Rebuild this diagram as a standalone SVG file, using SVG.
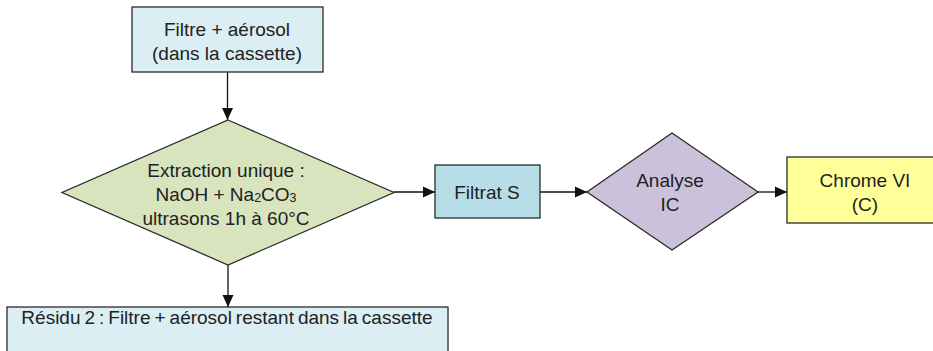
<svg xmlns="http://www.w3.org/2000/svg" width="933" height="351" viewBox="0 0 933 351">
<style>
.box{stroke:#2b2b2b;stroke-width:1.3}
.t{font-family:"Liberation Sans",Arial,sans-serif;font-size:19px;fill:#222;text-anchor:middle}
.c{stroke:#111;stroke-width:1.3;fill:none;marker-end:url(#ah)}
.sub{font-size:12.5px}
</style>
<defs>
<marker id="ah" viewBox="0 0 12 12" refX="12" refY="6" markerWidth="12" markerHeight="12" markerUnits="userSpaceOnUse" orient="auto">
<path d="M0,0.5 L12,6 L0,11.5 Z" fill="#111"/>
</marker>
</defs>
<rect width="933" height="351" fill="#fff"/>
<g id="connectors">
<line class="c" x1="227.5" y1="72" x2="227.5" y2="120"/>
<line class="c" x1="228" y1="265" x2="228" y2="307"/>
<line class="c" x1="394" y1="192" x2="435" y2="192"/>
<line class="c" x1="540" y1="192" x2="587" y2="192"/>
<line class="c" x1="758" y1="192" x2="787" y2="192"/>
</g>
<g id="filtre-aerosol">
<rect class="box" x="132" y="7" width="191" height="65" fill="#DAEEF3"/>
<text class="t" x="227" y="35.5">Filtre + aérosol</text>
<text class="t" x="227" y="59.5">(dans la cassette)</text>
</g>
<g id="extraction">
<polygon class="box" points="228,120 394,192.5 228,265 62,192.5" fill="#D7E4BD"/>
<text class="t" x="226" y="176.5">Extraction unique :</text>
<text class="t" x="226" y="200.5">NaOH + Na<tspan class="sub" dy="1">2</tspan><tspan dy="-1">CO</tspan><tspan class="sub" dy="1">3</tspan></text>
<text class="t" x="226" y="224.5">ultrasons 1h à 60°C</text>
</g>
<g id="residu">
<rect class="box" x="7" y="307" width="441" height="60" fill="#DAEEF3"/>
<text class="t" x="227" y="324" style="word-spacing:-1.3px">Résidu 2 : Filtre + aérosol restant dans la cassette</text>
</g>
<g id="filtrat">
<rect class="box" x="435" y="165" width="105" height="53" fill="#B7DEE8"/>
<text class="t" x="487" y="198.5">Filtrat S</text>
</g>
<g id="analyse">
<polygon class="box" points="672,133 758,192 672,250 587,192" fill="#CCC1DA"/>
<text class="t" x="670" y="187">Analyse</text>
<text class="t" x="670" y="211">IC</text>
</g>
<g id="chrome">
<rect class="box" x="787" y="157" width="156" height="66" fill="#FFFF99"/>
<text class="t" x="865" y="186.5">Chrome VI</text>
<text class="t" x="865" y="210.5">(C)</text>
</g>
</svg>
